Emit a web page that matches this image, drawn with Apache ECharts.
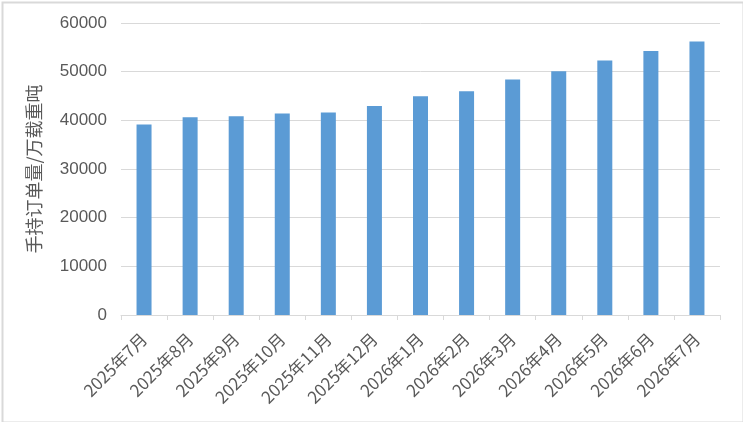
<!DOCTYPE html>
<html>
<head>
<meta charset="utf-8">
<script src="https://cdn.jsdelivr.net/npm/echarts@6/dist/echarts.min.js"></script>
<style>
html,body{margin:0;padding:0;background:#fff;}
#c{width:743px;height:422px;}
</style>
</head>
<body>
<div id="c"></div>
<script>
const categories = ['2025年7月','2025年8月','2025年9月','2025年10月','2025年11月','2025年12月','2026年1月','2026年2月','2026年3月','2026年4月','2026年5月','2026年6月','2026年7月'];
const orderBook = [39140, 40640, 40850, 41400, 41600, 42960, 44950, 45980, 48380, 50080, 52280, 54250, 56180];
const yName = '手持订单量/万载重吨';

const chart = echarts.init(document.getElementById('c'), null, {renderer: 'canvas'});
const font = '"Noto Sans CJK SC", "Liberation Sans", sans-serif';
chart.setOption({
  animation: false,
  backgroundColor: '#fff',
  graphic: [{
    type: 'rect', left: 0, top: 0, silent: true,
    shape: {x: 1, y: 1, width: 741, height: 420},
    style: {fill: 'none', stroke: '#d9d9d9', lineWidth: 2}
  }],
  grid: {left: 121, right: 23, top: 23, bottom: 107},
  xAxis: {
    type: 'category',
    data: categories,
    axisLine: {show: true, lineStyle: {color: '#d9d9d9', width: 1}},
    axisTick: {show: true, length: 5, lineStyle: {color: '#d9d9d9'}},
    axisLabel: {rotate: 45, color: '#595959', fontSize: 17, fontFamily: font, margin: 21, interval: 0}
  },
  yAxis: {
    type: 'value',
    min: 0, max: 60000, interval: 10000,
    name: yName,
    nameLocation: 'middle',
    nameGap: 78,
    nameTextStyle: {color: '#595959', fontSize: 18, fontFamily: font},
    axisLine: {show: false},
    axisTick: {show: false},
    axisLabel: {color: '#595959', fontSize: 17, fontFamily: '"Liberation Sans", sans-serif', margin: 14, formatter: v => String(v)},
    splitLine: {lineStyle: {color: '#d9d9d9', width: 1}}
  },
  series: [{
    type: 'bar',
    data: orderBook,
    barWidth: 15,
    itemStyle: {color: '#5b9bd5'}
  }]
});
</script>
</body>
</html>
